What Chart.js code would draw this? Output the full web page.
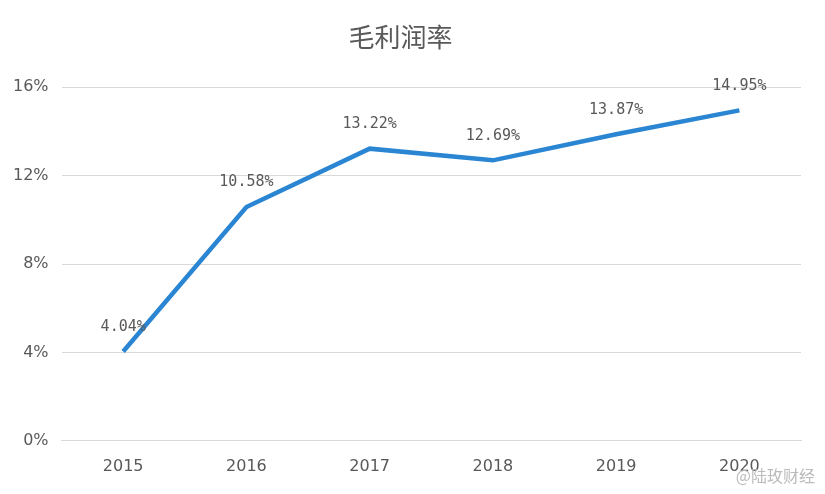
<!DOCTYPE html>
<html><head><meta charset="utf-8">
<script src="https://cdn.jsdelivr.net/npm/chart.js@4/dist/chart.umd.min.js"></script>
<style>html,body{margin:0;padding:0;background:#fff}#w{width:825px;height:494px;position:relative}</style>
</head><body><div id="w"><canvas id="c"></canvas></div>
<script>
const categories=['2015','2016','2017','2018','2019','2020'];
const grossMargin=[4.04,10.58,13.22,12.69,13.87,14.95];
const yTicks=[0,4,8,12,16];
const labelPlugin={id:'lbl',afterDatasetsDraw(ch){const ctx=ch.ctx;const m=ch.getDatasetMeta(0);ctx.save();ctx.font='15px "DejaVu Sans Mono"';ctx.fillStyle='#595959';ctx.textAlign='center';ctx.textBaseline='bottom';
m.data.forEach((p,i)=>{ctx.fillText(grossMargin[i].toFixed(2)+'%',p.x,p.y-17);});
ctx.font='16px "Noto Sans CJK SC"';ctx.fillStyle='#bbbbbb';ctx.textAlign='right';ctx.textBaseline='middle';ctx.fillText('@陆玫财经',815,476);ctx.restore();}};
new Chart(document.getElementById('c'),{type:'line',
data:{labels:categories,datasets:[{data:grossMargin,borderColor:'#2a85d3',borderWidth:4.5,pointRadius:0,tension:0,fill:false}]},
options:{responsive:true,maintainAspectRatio:false,animation:false,
layout:{padding:{left:0,right:24,top:16,bottom:10}},
plugins:{legend:{display:false},tooltip:{enabled:false},
title:{display:true,text:'毛利润率',color:'#595959',font:{size:26,family:'Noto Sans CJK SC',weight:'normal'},padding:{top:6,bottom:34}}},
scales:{x:{offset:true,grid:{display:false},border:{color:'#d9d9d9'},ticks:{color:'#595959',font:{size:16,family:'DejaVu Sans'},padding:8}},
y:{min:0,max:16,afterBuildTicks(s){s.ticks=yTicks.map(v=>({value:v}));},grid:{color:'#d9d9d9',drawTicks:false},border:{display:false},
ticks:{color:'#595959',font:{size:16,family:'DejaVu Sans'},padding:13,callback:v=>v+'%'}}}},
plugins:[labelPlugin]});
</script></body></html>
